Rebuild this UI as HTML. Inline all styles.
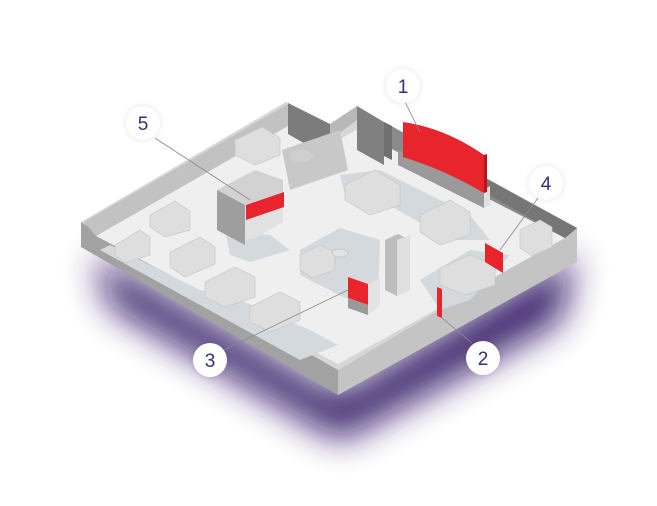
<!DOCTYPE html>
<html><head><style>
html,body{margin:0;padding:0;background:#fff;width:657px;height:506px;overflow:hidden}
svg{display:block}
text{font-family:"Liberation Sans",sans-serif;font-size:19px;fill:#3d2a7a;text-anchor:middle}
</style></head><body>
<svg width="657" height="506" viewBox="0 0 657 506">
<defs>
<filter id="b" x="-50%" y="-50%" width="200%" height="200%"><feGaussianBlur stdDeviation="18"/></filter>
<filter id="s" x="-50%" y="-50%" width="200%" height="200%"><feGaussianBlur stdDeviation="3"/></filter>
</defs>
<!-- purple glow -->
<polygon points="95,255 338,395 575,255 560,320 340,440 110,305" fill="#2c0860" opacity="0.95" filter="url(#b)"/>
<!-- slab sides -->
<polygon points="81,222 338,370 338,395 81,247" fill="#a2a2a2"/>
<polygon points="338,370 577,228 577,262 338,395" fill="#c4c4c4"/>
<!-- top rim -->
<polygon points="81,222 286,102 330,124 357,106 384,122 577,228 338,370" fill="#d6d6d6"/>
<!-- floor -->
<polygon points="96,236 288,126 328,146 356,130 384,145 565,238 338,364" fill="#efefef"/>
<!-- back-left wall inner face -->
<polygon points="84,222 288,104 288,126 96,236" fill="#c2c2c2"/>
<!-- back walls -->
<polygon points="288,103 288,134 330,158 330,124" fill="#7c7c7c"/>
<polygon points="330,124 357,106 357,120 330,140" fill="#b8b8b8"/>
<polygon points="357,106 384,122 384,165 357,150" fill="#808080"/>
<polygon points="384,122 577,228 565,238 384,145" fill="#8a8a8a"/>
<polygon points="384,122 392,126 392,160 384,156" fill="#6f6f6f"/>
<polygon points="484,178 577,228 565,238 484,192" fill="#767676"/>
<!-- carpets -->
<polygon points="110,245 200,290 240,300 310,330 338,345 300,360 100,250" fill="#d3d9dc"/>
<polygon points="300,250 340,228 380,240 378,300 345,298 300,275" fill="#d3d9dc"/>
<polygon points="340,175 380,170 420,190 470,215 490,240 450,240 380,200 345,195" fill="#d3d9dc"/>
<polygon points="420,280 470,250 510,255 470,300 440,310" fill="#d3d9dc"/>
<polygon points="225,230 270,235 290,250 250,262 230,255" fill="#d3d9dc"/>
<!-- curved partition wall -->
<polygon points="282,150 340,130 348,170 290,190" fill="#c8c8c8"/>
<!-- furniture blocks -->
<g fill="#dedede" stroke="#c4c4c4" stroke-width="0.6">
<polygon points="150,215 175,201 190,211 190,230 165,237 150,227"/>
<polygon points="170,252 200,237 215,247 215,264 185,277 170,267"/>
<polygon points="205,282 235,267 255,277 255,297 225,307 205,297"/>
<polygon points="250,307 280,292 300,302 300,320 270,332 250,322"/>
<polygon points="115,245 140,230 150,237 150,255 125,263 115,255"/>
<polygon points="345,185 375,170 400,185 400,205 370,215 345,200"/>
<polygon points="420,215 450,200 470,212 470,235 440,245 420,232"/>
<polygon points="235,140 262,127 280,138 280,155 255,165 235,155"/>
<polygon points="300,255 320,245 335,252 335,270 312,278 300,270"/>
<polygon points="440,268 470,255 495,265 495,285 465,295 440,285"/>
<polygon points="520,230 540,220 552,227 552,247 532,256 520,248"/>
</g>
<ellipse cx="301" cy="156" rx="12" ry="6" fill="#cfcfcf"/>
<ellipse cx="340" cy="253" rx="8" ry="4" fill="#e2e2e2" stroke="#c8c8c8"/>
<!-- building 5 -->
<polygon points="217,190 255,170 283,180 283,210 245,228 217,215" fill="#d2d2d2"/>
<polygon points="217,190 245,205 245,245 217,230" fill="#9e9e9e"/>
<polygon points="245,205 283,192 283,222 255,238 245,240" fill="#e1e1e1"/>
<polygon points="246,205 284,192 284,207 246,220" fill="#e8242c"/>
<!-- pillar -->
<polygon points="385,240 398,234 410,240 410,290 397,296 385,290" fill="#bdbdbd"/>
<polygon points="397,240 410,235 410,290 397,296" fill="#e0e0e0"/>
<!-- screen 1 -->
<polygon points="398,150 484,190 484,208 398,165" fill="#9a9a9a"/>
<polygon points="484,190 490,186 490,205 484,208" fill="#e0e0e0"/>
<path d="M403,122 Q445,128 484,155 L484,193 Q445,170 403,157 Z" fill="#e8242c"/>
<polygon points="484,155 487,154 487,192 484,193" fill="#b8141b"/>
<!-- 3 -->
<polygon points="348,277 368,284 368,305 348,298" fill="#e8242c"/>
<polygon points="348,298 368,305 368,315 348,308" fill="#9a9a9a"/>
<polygon points="368,284 380,278 380,305 368,315" fill="#e4e4e4"/>
<!-- 2 -->
<polygon points="437,287 442,289 442,318 437,316" fill="#e8242c"/>
<!-- 4 -->
<polygon points="485,243 503,253 503,273 485,262" fill="#e8242c"/>
<!-- leader lines -->
<g stroke="#8a8a8a" stroke-width="0.8">
<line x1="405" y1="102" x2="420" y2="132"/>
<line x1="472" y1="343" x2="442" y2="318"/>
<line x1="224" y1="350" x2="348" y2="290"/>
<line x1="538" y1="198" x2="500" y2="250"/>
<line x1="155" y1="138" x2="250" y2="200"/>
</g>
<g>
<circle cx="403" cy="86" r="18" fill="#000" opacity="0.08" filter="url(#s)"/>
<circle cx="403" cy="86" r="17" fill="#fff"/>
<text x="403" y="93">1</text>
<circle cx="483" cy="358" r="18" fill="#000" opacity="0.08" filter="url(#s)"/>
<circle cx="483" cy="358" r="17" fill="#fff"/>
<text x="483" y="365">2</text>
<circle cx="210" cy="360" r="18" fill="#000" opacity="0.08" filter="url(#s)"/>
<circle cx="210" cy="360" r="17" fill="#fff"/>
<text x="210" y="367">3</text>
<circle cx="546" cy="183" r="18" fill="#000" opacity="0.08" filter="url(#s)"/>
<circle cx="546" cy="183" r="17" fill="#fff"/>
<text x="546" y="190">4</text>
<circle cx="143" cy="123" r="18" fill="#000" opacity="0.08" filter="url(#s)"/>
<circle cx="143" cy="123" r="17" fill="#fff"/>
<text x="143" y="130">5</text>
</g>
</svg>
</body></html>
